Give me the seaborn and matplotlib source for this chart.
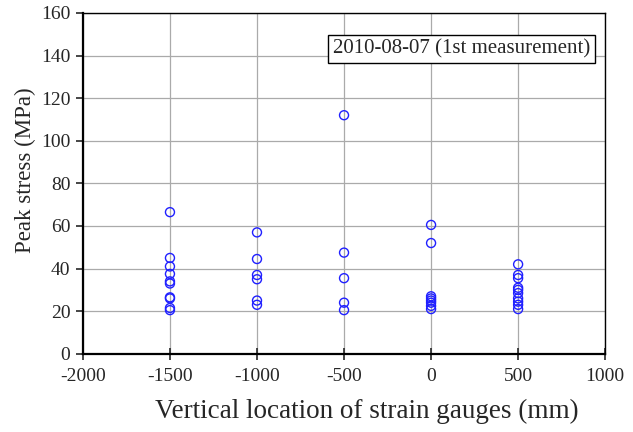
import numpy as np
import pandas as pd
import seaborn as sns
import matplotlib.pyplot as plt

# peak stress, grouped by gauge location (mm)
loc_m1500 = [66.5, 45, 41, 37.5, 34, 33, 26.5, 26, 21.5, 20.5]
loc_m1000 = [57, 44.5, 37, 35, 25, 23]
loc_m500 = [112, 47.5, 35.5, 24, 20.5]
loc_0 = [60.5, 52, 27, 26, 25, 24, 22.5, 21]
loc_500 = [42, 37, 35.5, 31, 30, 28.5, 26, 24.5, 23, 21]

locations = [-1500, -1000, -500, 0, 500]
groups = [loc_m1500, loc_m1000, loc_m500, loc_0, loc_500]

rows = []
for pos, vals in zip(locations, groups):
    for v in vals:
        rows.append((pos, v))
df = pd.DataFrame(rows, columns=["location", "stress"])

sns.set_style("white")
plt.rcParams['font.family'] = ['Liberation Serif', 'DejaVu Serif']
plt.rcParams['axes.unicode_minus'] = False

fig = plt.figure(figsize=(6.33, 4.32), dpi=100)
ax = fig.add_axes([0.131, 0.181, 0.825, 0.789])

sns.scatterplot(data=df, x="location", y="stress", ax=ax,
                marker="o", s=42, facecolors="none", edgecolor="#2020ff",
                linewidth=1.0, zorder=3)

ax.set_xlim(-2000, 1000)
ax.set_ylim(0, 160)
ax.set_xticks(np.arange(-2000, 1001, 500))
ax.set_yticks(np.arange(0, 161, 20))
ax.grid(True, color="#aaaaaa", linewidth=0.9)
ax.set_axisbelow(True)

for s in ax.spines.values():
    s.set_color("black")
    s.set_linewidth(1.0)
ax.spines["left"].set_linewidth(1.6)
ax.spines["bottom"].set_linewidth(1.6)

ax.tick_params(axis="y", direction="out", length=5, width=1.2, labelsize=14, pad=4, left=True)
ax.tick_params(axis="x", direction="inout", length=8, width=1.2, labelsize=14, pad=6, bottom=True)

ax.set_xlabel("Vertical location of strain gauges (mm)", fontsize=19.5)
ax.xaxis.set_label_coords(0.544, -0.132)
ax.set_ylabel("Peak stress (MPa)", fontsize=16.5)
ax.yaxis.set_label_coords(-0.09, 0.54)

ax.text(0.725, 0.895, "2010-08-07 (1st measurement)", transform=ax.transAxes,
        ha="center", va="center", fontsize=15,
        bbox=dict(boxstyle="square,pad=0.22", facecolor="white", edgecolor="black", linewidth=1.0))

fig.savefig("out.png", dpi=100)
